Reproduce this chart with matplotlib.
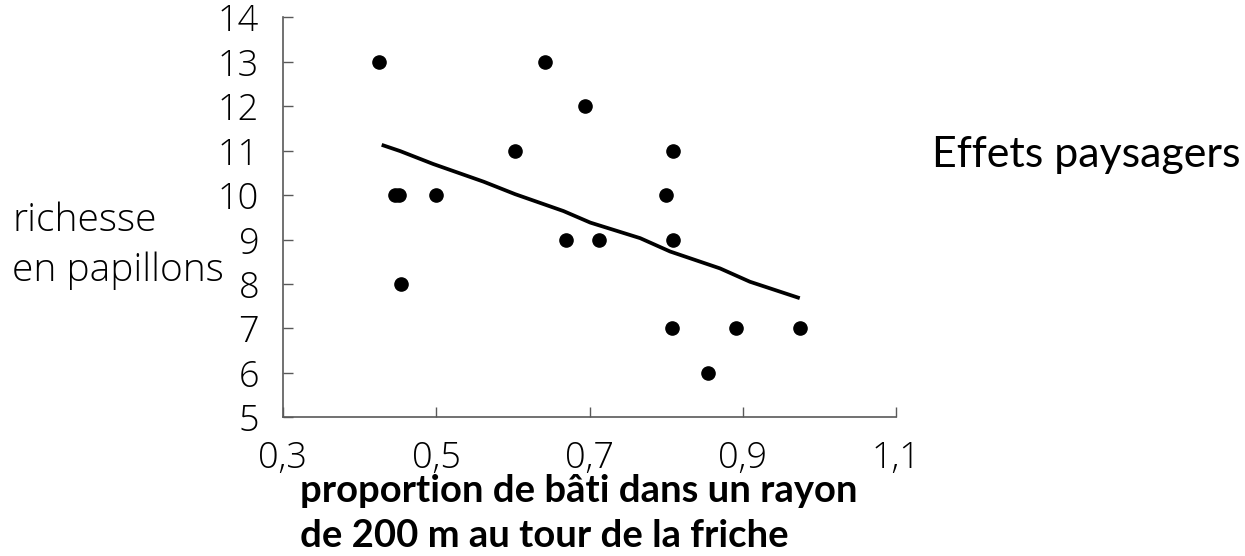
import matplotlib
matplotlib.use("Agg")
import matplotlib.pyplot as plt

# proportion de bâti (x) et richesse en papillons (y), une friche par point
bati = [0.426, 0.446, 0.452, 0.454, 0.500, 0.603, 0.642, 0.669, 0.694,
        0.712, 0.800, 0.807, 0.809, 0.809, 0.855, 0.891, 0.974]
richesse = [13, 10, 10, 8, 10, 11, 13, 9, 12, 9, 10, 7, 11, 9, 6, 7, 7]

# courbe de tendance
trend_x = [0.429, 0.453, 0.496, 0.562, 0.603, 0.666, 0.701, 0.766, 0.805,
           0.870, 0.909, 0.974]
trend_y = [11.13, 10.99, 10.70, 10.30, 10.02, 9.64, 9.38, 9.03, 8.73,
           8.35, 8.05, 7.68]

x_ticks = [0.3, 0.5, 0.7, 0.9, 1.1]
x_labels = ["0,3", "0,5", "0,7", "0,9", "1,1"]
y_ticks = [5, 6, 7, 8, 9, 10, 11, 12, 13, 14]

light = ["Open Sans", "DejaVu Sans"]
calib = ["Lato", "DejaVu Sans"]

fig = plt.figure(figsize=(12.45, 5.56), dpi=100)
ax = fig.add_axes([0.2271, 0.2495, 0.4929, 0.7194])

ax.plot(bati, richesse, "o", color="black", ms=9.5, zorder=3)
ax.plot(trend_x, trend_y, color="black", lw=2.7, solid_capstyle="butt")

ax.set_xlim(0.3, 1.1)
ax.set_ylim(5, 14)
ax.set_xticks(x_ticks)
ax.set_xticklabels(x_labels)
ax.set_yticks(y_ticks)

for side in ["top", "right"]:
    ax.spines[side].set_visible(False)
for side in ["left", "bottom"]:
    ax.spines[side].set_color("#595959")
    ax.spines[side].set_linewidth(1.2)

ax.tick_params(axis="both", direction="in", length=7, width=1, color="#595959")
ax.tick_params(axis="y", pad=17)
ax.tick_params(axis="x", pad=16)
for lab in ax.get_xticklabels() + ax.get_yticklabels():
    lab.set_family(light)
    lab.set_fontweight("light")
    lab.set_fontsize(26)

fig.text(12 / 1245, 1 - 246 / 556, "richesse\nen papillons", family=light,
         fontweight="light", fontsize=28, ha="left", va="center", linespacing=1.38)
fig.text(300 / 1245, 1 - 474 / 556, "proportion de bâti dans un rayon\nde 200 m au tour de la friche",
         family=calib, fontweight="bold", fontsize=27.5, ha="left", va="top", linespacing=1.38)
fig.text(932 / 1245, 1 - 155 / 556, "Effets paysagers", family=calib,
         fontsize=31, ha="left", va="center")

fig.savefig("out.png", dpi=100)
